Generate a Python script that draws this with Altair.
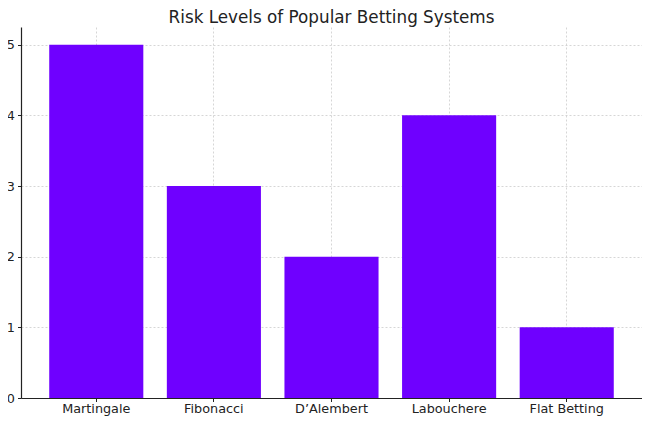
import altair as alt
import pandas as pd

systems = ["Martingale", "Fibonacci", "D\u2019Alembert", "Labouchere", "Flat Betting"]
risk = [5, 3, 2, 4, 1]

df = pd.DataFrame({"system": systems, "risk": risk})

chart = alt.Chart(df).mark_bar(color="#6f00ff").encode(
    x=alt.X("system:N", sort=systems, title=None,
            scale=alt.Scale(paddingInner=0.2, paddingOuter=0.24),
            axis=alt.Axis(labelAngle=0, grid=True, bandPosition=0.5, tickBand="center",
                          labelPadding=1)),
    y=alt.Y("risk:Q", title=None,
            scale=alt.Scale(domain=[0, 5.25], nice=False),
            axis=alt.Axis(values=[0, 1, 2, 3, 4, 5], grid=True, labelPadding=3)),
).properties(
    width=621, height=371,
    title=alt.TitleParams("Risk Levels of Popular Betting Systems", fontSize=16.8,
                          font="DejaVu Sans", fontWeight="normal", color="#222222", offset=0),
    autosize=alt.AutoSizeParams(type="none"),
    padding={"left": 13, "top": 19, "right": 0, "bottom": 18},
).configure_view(stroke=None).configure_axis(
    domainColor="#222222", domainWidth=1.2, tickColor="#222222", tickSize=3.5,
    labelFont="DejaVu Sans", labelFontSize=12.8, labelColor="#222222",
    gridColor="#cccccc", gridDash=[2, 2], gridWidth=0.8, zindex=1,
)

chart.save("out.html", embed_options={"renderer": "svg", "actions": False})
